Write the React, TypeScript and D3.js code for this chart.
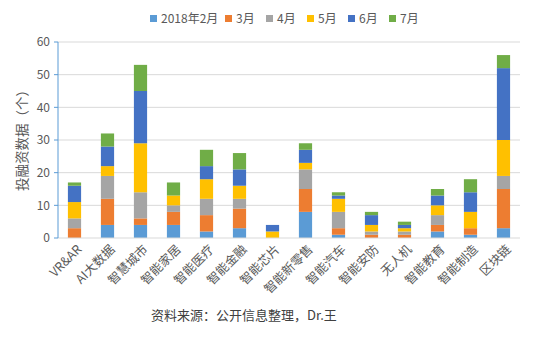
import React from "react";
import * as d3 from "d3";

const categories = ["VR&AR", "AI大数据", "智慧城市", "智能家居", "智能医疗", "智能金融", "智能芯片", "智能新零售", "智能汽车", "智能安防", "无人机", "智能教育", "智能制造", "区块链"];
const seriesNames = ["2018年2月", "3月", "4月", "5月", "6月", "7月"];
const feb = [0, 4, 4, 4, 2, 3, 0, 8, 1, 0, 0, 2, 1, 3];
const mar = [3, 8, 2, 4, 5, 6, 0, 7, 2, 1, 1, 2, 2, 12];
const apr = [3, 7, 8, 2, 5, 3, 0, 6, 5, 1, 1, 3, 0, 4];
const may = [5, 3, 15, 3, 6, 4, 2, 2, 4, 2, 1, 3, 5, 11];
const jun = [5, 6, 16, 0, 4, 5, 2, 4, 1, 3, 1, 3, 6, 22];
const jul = [1, 4, 8, 4, 5, 5, 0, 2, 1, 1, 1, 2, 4, 4];
const yTicks = [0, 10, 20, 30, 40, 50, 60];
const colors = ["#5B9BD5", "#ED7D31", "#A5A5A5", "#FFC000", "#4472C4", "#70AD47"];
const yTitle = "投融资数据（个）";
const source = "资料来源：公开信息整理，Dr.王";

const W = 534, H = 339;
const margin = { left: 58, right: 14, top: 42, bottom: 101 };
const FONT = "'Noto Sans CJK SC', 'Noto Sans', sans-serif";

export default function App() {
  const series = [feb, mar, apr, may, jun, jul];
  const table = categories.map((c, i) => {
    const row: any = { cat: c };
    seriesNames.forEach((s, k) => (row[s] = series[k][i]));
    return row;
  });
  const stacked = d3.stack().keys(seriesNames)(table);
  const x = d3.scaleBand().domain(categories).range([margin.left, W - margin.right]).paddingInner(0.6).paddingOuter(0.3);
  const y = d3.scaleLinear().domain([0, 60]).range([H - margin.bottom, margin.top]);
  const legendWidths = [55, 21, 21, 21, 21, 21];
  let lx = 150;
  const legendX = legendWidths.map((w) => {
    const v = lx;
    lx += 7 + 4 + w + 9;
    return v;
  });
  return (
    <svg width={W} height={H} style={{ position: "absolute", left: 0, top: 0, background: "#fff" }} fontFamily={FONT}>
      {yTicks.map((t) => (
        <g key={t}>
          {t > 0 && <line x1={margin.left} x2={W - margin.right} y1={y(t)} y2={y(t)} stroke="#D9D9D9" strokeWidth={1} />}
          <line x1={margin.left - 4} x2={margin.left} y1={y(t)} y2={y(t)} stroke="#5B9BD5" strokeWidth={1} />
          <text x={margin.left - 8} y={y(t)} dy="0.35em" textAnchor="end" fontSize={12} fill="#595959">{t}</text>
        </g>
      ))}
      {stacked.map((s, k) => (
        <g key={k} fill={colors[k]}>
          {s.map((d, i) => (
            d[1] - d[0] > 0 ? <rect key={i} x={x(categories[i])} width={x.bandwidth()} y={y(d[1])} height={y(d[0]) - y(d[1])} /> : null
          ))}
        </g>
      ))}
      <line x1={margin.left} x2={W - margin.right} y1={y(0)} y2={y(0)} stroke="#D9D9D9" strokeWidth={1} />
      <line x1={margin.left} x2={margin.left} y1={y(60)} y2={y(0)} stroke="#5B9BD5" strokeWidth={1} />
      {categories.map((c) => {
        const cx = (x(c) as number) + x.bandwidth() / 2 + 5;
        const cy = y(0) + 9;
        return (
          <text key={c} transform={`translate(${cx},${cy}) rotate(-45)`} textAnchor="end" dy="0.35em" fontSize={12.5} fill="#595959">{c}</text>
        );
      })}
      <text transform={`translate(22,${(y(0) + y(60)) / 2 - 3}) rotate(-90)`} textAnchor="middle" dy="0.35em" fontSize={13.5} fill="#595959">{yTitle}</text>
      {seriesNames.map((s, k) => (
        <g key={s}>
          <rect x={legendX[k]} y={15} width={7} height={7} fill={colors[k]} />
          <text x={legendX[k] + 11} y={18.5} dy="0.35em" fontSize={12} fill="#595959">{s}</text>
        </g>
      ))}
      <text x={151} y={315} dy="0.35em" fontSize={13} fill="#404040">{source}</text>
    </svg>
  );
}
